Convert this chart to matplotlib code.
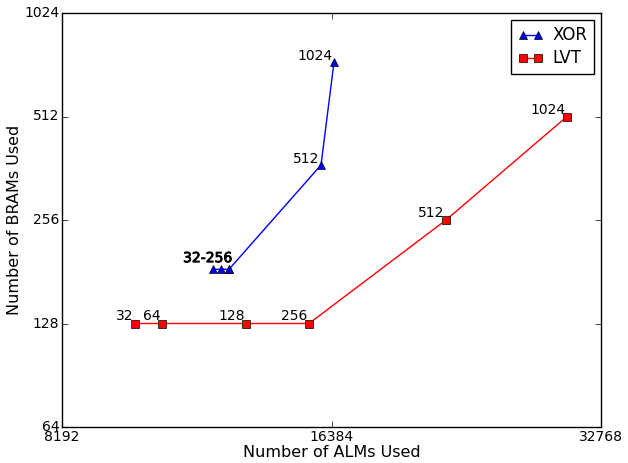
import matplotlib
matplotlib.use("Agg")
from matplotlib import pyplot as plt
from matplotlib import patheffects
from matplotlib.ticker import FixedLocator, FixedFormatter, NullLocator

plt.style.use('classic')

# XOR data (ALMs, BRAMs) with point labels
xor_alms = [12079, 12333, 12588, 12588, 15948, 16490]
xor_brams = [184, 184, 184, 184, 370, 737]
xor_labels = ['', '', '', '32-256', '512', '1024']

# LVT data
lvt_alms = [9884, 10597, 13149, 15463, 21995, 30024]
lvt_brams = [128, 128, 128, 128, 256, 512]
lvt_labels = ['32', '64', '128', '256', '512', '1024']

x_ticks = [8192, 16384, 32768]
y_ticks = [64, 128, 256, 512, 1024]

fig = plt.figure(figsize=(6.28, 4.63), dpi=100, facecolor='white')
ax = fig.add_axes([62 / 628, 36 / 463, 539 / 628, 414 / 463])

ax.plot(xor_alms, xor_brams, 'b-^', markersize=6, label='XOR')
ax.plot(lvt_alms, lvt_brams, 'r-s', markersize=5.5, label='LVT')

for x, y, t in zip(xor_alms, xor_brams, xor_labels):
    if not t:
        continue
    if t == '32-256':
        ax.annotate(t, (x, y), xytext=(2, 3), textcoords='offset points',
                    ha='right', va='bottom', fontsize=10,
                    path_effects=[patheffects.withStroke(linewidth=0.6, foreground='black')])
    else:
        ax.annotate(t, (x, y), xytext=(-1, -1), textcoords='offset points',
                    ha='right', va='bottom', fontsize=10)
for x, y, t in zip(lvt_alms, lvt_brams, lvt_labels):
    ax.annotate(t, (x, y), xytext=(-1, 0), textcoords='offset points',
                ha='right', va='bottom', fontsize=10)

ax.set_xscale('log', base=2)
ax.set_yscale('log', base=2)
ax.set_xlim(8192, 32768)
ax.set_ylim(64, 1024)
ax.xaxis.set_major_locator(FixedLocator(x_ticks))
ax.xaxis.set_major_formatter(FixedFormatter([str(v) for v in x_ticks]))
ax.yaxis.set_major_locator(FixedLocator(y_ticks))
ax.yaxis.set_major_formatter(FixedFormatter([str(v) for v in y_ticks]))
ax.xaxis.set_minor_locator(NullLocator())
ax.yaxis.set_minor_locator(NullLocator())
ax.tick_params(labelsize=10, pad=2)

ax.set_xlabel('Number of ALMs Used', fontsize=11.5, labelpad=1)
ax.set_ylabel('Number of BRAMs Used', fontsize=11.5, labelpad=1.5)
ax.legend(loc='upper right', numpoints=2, fontsize=12, handlelength=1.5,
          borderaxespad=0.4, labelspacing=0.3, handletextpad=0.6)

fig.savefig('out.png', dpi=100, facecolor='white')
